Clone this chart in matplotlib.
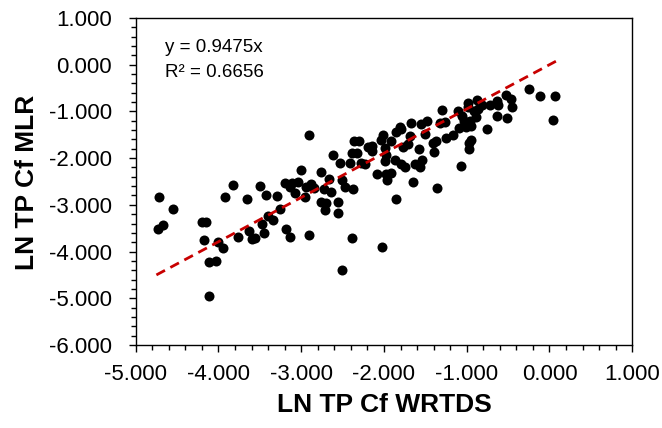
import numpy as np
import matplotlib
matplotlib.use('Agg')
import matplotlib.pyplot as plt
from matplotlib.ticker import MultipleLocator, FormatStrFormatter

# LN TP Cf values
wrtds = [-4.72, -4.73, -4.67, -4.55, -4.20, -4.15, -4.18, -4.12, -4.03, -4.12,
         -4.00, -3.94, -3.92, -3.83, -3.76, -3.65, -3.63, -3.60, -3.56, -3.50,
         -3.47, -3.45, -3.42, -3.40, -3.34, -3.29, -3.26, -3.20, -3.18, -3.14,
         -3.13, -3.11, -3.07, -3.04, -3.00, -2.96, -2.94, -2.90, -2.91, -2.88,
         -2.85, -2.76, -2.76, -2.71, -2.70, -2.72, -2.66, -2.64, -2.62, -2.56,
         -2.55, -2.53, -2.51, -2.51, -2.47, -2.41, -2.39, -2.38, -2.39, -2.36,
         -2.30, -2.32, -2.28, -2.23, -2.19, -2.15, -2.14, -2.08, -2.04, -2.02,
         -2.01, -1.99, -1.99, -1.98, -1.96, -1.92, -1.97, -1.91, -1.87, -1.85,
         -1.85, -1.81, -1.80, -1.79, -1.77, -1.74, -1.71, -1.69, -1.67, -1.65,
         -1.62, -1.58, -1.57, -1.54, -1.55, -1.51, -1.48, -1.41, -1.40, -1.36,
         -1.37, -1.32, -1.30, -1.26, -1.25, -1.17, -1.11, -1.09, -1.07, -1.06,
         -1.03, -1.01, -0.99, -0.97, -0.97, -0.95, -0.96, -0.95, -0.98, -0.91,
         -0.89, -0.88, -0.86, -0.82, -0.75, -0.72, -0.63, -0.62, -0.63, -0.53,
         -0.51, -0.47, -0.45, -0.25, -0.115, 0.07, 0.04]
mlr = [-2.835, -3.525, -3.43, -3.08, -3.36, -3.36, -3.75, -4.22, -4.20, -4.95,
       -3.79, -3.93, -2.835, -2.58, -3.69, -2.88, -3.57, -3.74, -3.71, -2.60,
       -3.42, -3.61, -2.78, -3.23, -3.33, -2.81, -3.09, -2.53, -3.525, -3.68,
       -2.61, -2.53, -2.74, -2.51, -2.26, -2.835, -2.61, -1.51, -3.64, -2.55,
       -2.63, -2.29, -2.95, -3.12, -2.965, -2.67, -2.455, -2.72, -1.94, -2.94,
       -3.17, -2.10, -4.40, -2.47, -2.61, -2.10, -3.71, -2.67, -1.885, -1.64,
       -1.625, -1.89, -2.10, -2.13, -1.77, -1.85, -1.745, -2.33, -1.61, -3.91,
       -1.505, -1.79, -2.06, -2.33, -2.47, -2.31, -1.94, -1.625, -2.05, -2.88,
       -1.45, -1.34, -2.12, -1.37, -1.77, -2.19, -1.70, -1.52, -1.245, -2.505,
       -2.12, -1.815, -2.19, -2.03, -1.275, -1.48, -1.20, -1.68, -1.87, -2.645,
       -1.625, -1.24, -0.98, -1.235, -1.57, -1.50, -0.99, -1.365, -2.17, -1.10,
       -1.20, -1.34, -0.91, -1.67, -1.80, -1.61, -1.20, -1.32, -0.82, -0.99,
       -1.11, -0.76, -0.94, -0.87, -1.38, -0.87, -0.78, -0.87, -1.10, -0.64,
       -1.15, -0.73, -0.91, -0.53, -0.66, -0.66, -1.19]

slope = 0.9475
r2 = 0.6656
trend_x = [-4.75, 0.08]

plt.rcParams['font.family'] = ['Liberation Sans', 'DejaVu Sans']

fig = plt.figure(figsize=(6.62, 4.28), dpi=100)
ax = fig.add_axes([0.205, 0.194, 0.750, 0.764])

ax.scatter(wrtds, mlr, s=52, color='black', zorder=3, linewidths=0)
tx = np.array(trend_x)
ax.plot(tx, slope * tx, color='#C80000', lw=2.0, ls=(0, (3.5, 2.2)), zorder=4)

ax.set_xlim(-5, 1)
ax.set_ylim(-6, 1)
ax.xaxis.set_major_locator(MultipleLocator(1))
ax.xaxis.set_minor_locator(MultipleLocator(0.2))
ax.yaxis.set_major_locator(MultipleLocator(1))
ax.yaxis.set_minor_locator(MultipleLocator(0.2))
ax.xaxis.set_major_formatter(FormatStrFormatter('%.3f'))
ax.yaxis.set_major_formatter(FormatStrFormatter('%.3f'))
ax.tick_params(which='both', direction='out', width=1, labelsize=16)
ax.tick_params(which='major', length=5)
ax.tick_params(which='minor', length=3.5)
ax.tick_params(axis='y', which='major', pad=12)
ax.tick_params(axis='x', which='major', pad=9)
for sp in ax.spines.values():
    sp.set_linewidth(1)

# axis titles placed to match the reference
fig.text(0.5 * (0.205 + 0.955), 1 - 405 / 428, 'LN TP Cf WRTDS', fontsize=19,
         fontweight='bold', ha='center', va='center')
fig.text(27 / 662, 1 - 182 / 428, 'LN TP Cf MLR', fontsize=19,
         fontweight='bold', ha='center', va='center', rotation=90)

ax.text(0.06, 0.911, 'y = 0.9475x', transform=ax.transAxes, fontsize=13.5, va='center')
ax.text(0.06, 0.832, 'R² = %.4f' % r2, transform=ax.transAxes, fontsize=13.5, va='center')

fig.savefig('out.png', dpi=100)
